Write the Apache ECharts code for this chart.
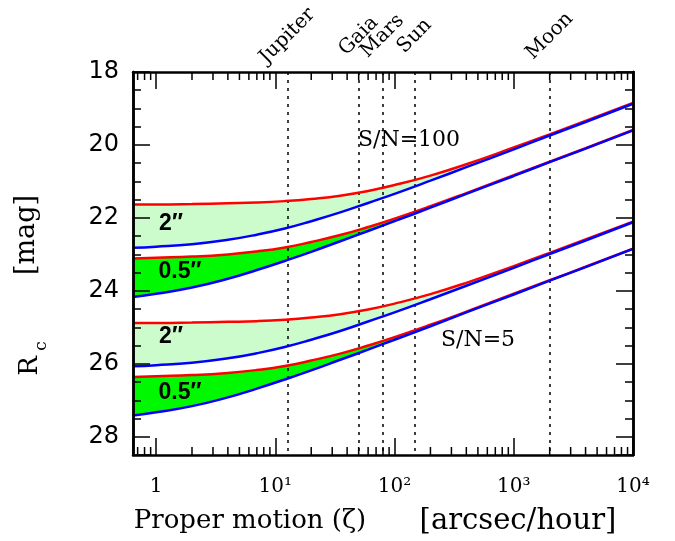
<!DOCTYPE html>
<html>
<head>
<meta charset="utf-8">
<script src="https://cdn.jsdelivr.net/npm/echarts@6/dist/echarts.min.js"></script>
<style>html,body{margin:0;padding:0;background:#fff}#c{width:675px;height:541px}</style>
</head>
<body>
<div id="c"></div>
<script>
// Proper motion values (arcsec/hour) at which curves are sampled
const zeta = [0.64, 1, 2, 4, 7, 12, 20, 35, 60, 100, 200, 400, 1000, 2000, 4000, 10000];
// S/N = 100
const red2_sn100  = [21.63,21.63,21.62,21.60,21.58,21.54,21.48,21.39,21.26,21.10,20.84,20.53,20.07,19.71,19.34,18.85];
const blue2_sn100 = [22.82,22.79,22.72,22.60,22.46,22.29,22.09,21.85,21.59,21.34,20.98,20.61,20.12,19.74,19.37,18.87];
const red05_sn100 = [23.11,23.09,23.06,23.00,22.92,22.81,22.66,22.47,22.25,22.02,21.68,21.32,20.83,20.46,20.09,19.59];
const blue05_sn100= [24.17,24.08,23.91,23.67,23.43,23.18,22.93,22.64,22.36,22.09,21.72,21.34,20.85,20.47,20.10,19.60];
// S/N = 5
const red2_sn5    = [24.88,24.88,24.87,24.85,24.83,24.79,24.73,24.64,24.51,24.35,24.09,23.78,23.32,22.96,22.59,22.10];
const blue2_sn5   = [26.07,26.04,25.97,25.85,25.71,25.54,25.34,25.10,24.84,24.59,24.23,23.86,23.37,22.99,22.62,22.12];
const red05_sn5   = [26.36,26.34,26.31,26.25,26.17,26.06,25.91,25.72,25.50,25.27,24.93,24.57,24.08,23.71,23.34,22.84];
const blue05_sn5  = [27.42,27.33,27.16,26.92,26.68,26.43,26.18,25.89,25.61,25.34,24.97,24.59,24.10,23.72,23.35,22.85];
// Reference proper motions
const planetNames = ['Jupiter', 'Gaia', 'Mars', 'Sun', 'Moon'];
const planetZeta  = [12.6, 50, 79, 147, 2000];
// Axis
const xMin = 0.64, xMax = 10000;
const yMin = 18, yMax = 28.5;
const xMinorTicks = [0.7,0.8,0.9,2,3,4,5,6,7,8,9,20,30,40,50,60,70,80,90,200,300,400,500,600,700,800,900,2000,3000,4000,5000,6000,7000,8000,9000];
const supers = {0:'⁰',1:'¹',2:'²',3:'³',4:'⁴'};

const pairs = [
  {red: red2_sn100, blue: blue2_sn100, fill: '#ccfccc'},
  {red: red05_sn100, blue: blue05_sn100, fill: '#00f800'},
  {red: red2_sn5, blue: blue2_sn5, fill: '#ccfccc'},
  {red: red05_sn5, blue: blue05_sn5, fill: '#00f800'}
];
const zip = arr => zeta.map((z, i) => [z, arr[i]]);
const SM = 0.5;

const series = [];
// Band fills: colour below the red curve, then white below the blue curve (drawn in order, top to bottom)
pairs.forEach(p => {
  series.push({type:'line', data: zip(p.red), symbol:'none', smooth:SM,
    lineStyle:{width:0, opacity:0}, areaStyle:{color:p.fill, opacity:1, origin:'end'}, z:1, silent:true});
  series.push({type:'line', data: zip(p.blue), symbol:'none', smooth:SM,
    lineStyle:{width:0, opacity:0}, areaStyle:{color:'#ffffff', opacity:1, origin:'end'}, z:1, silent:true});
});
series.push({type:'line', data:[], z:3, silent:true,
  markLine:{symbol:['none','none'], silent:true, label:{show:false}, animation:false,
    lineStyle:{color:'#000', type:[3,5], width:1.5},
    data: planetZeta.map(v => ({xAxis: v}))}});
pairs.forEach(p => {
  series.push({type:'line', data: zip(p.red), symbol:'none', smooth:SM,
    lineStyle:{color:'#ff0000', width:2.5}, z:5, silent:true});
});
pairs.forEach(p => {
  series.push({type:'line', data: zip(p.blue), symbol:'none', smooth:SM,
    lineStyle:{color:'#0000ff', width:2.5}, z:6, silent:true});
});
series.push({type:'custom', data: xMinorTicks.map(v => [v, yMin]), z:10, silent:true, clip:false,
  renderItem: (params, api) => {
    const x = api.coord([api.value(0), yMin])[0];
    const top = params.coordSys.y, bot = params.coordSys.y + params.coordSys.height;
    const st = {stroke:'#000', lineWidth:1.5};
    return {type:'group', children:[
      {type:'line', shape:{x1:x, y1:top, x2:x, y2:top+8}, style:st},
      {type:'line', shape:{x1:x, y1:bot, x2:x, y2:bot-8}, style:st}
    ]};
  }});

const axLine = {show:true, lineStyle:{color:'#000', width:2.5}};
const majTick = {show:true, inside:true, length:17, lineStyle:{color:'#000', width:1.5}};
const minTick = {show:true, inside:true, length:8, lineStyle:{color:'#000', width:1.5}};
const yBase = {type:'value', inverse:true, min:yMin, max:yMax, splitLine:{show:false}, z:10, axisLine:axLine};

const option = {
  animation:false,
  backgroundColor:'#fff',
  grid:{left:133, right:42, top:72, bottom:86},
  xAxis:[
    {type:'log', logBase:10, min:xMin, max:xMax, position:'bottom', z:10, axisLine:axLine, axisTick:majTick,
      splitLine:{show:false}, minorTick:{show:false},
      axisLabel:{show:true, margin:22, color:'#000', fontFamily:'DejaVu Serif', fontSize:20, showMinLabel:true, showMaxLabel:true,
        formatter: v => { const e = Math.round(Math.log10(v)); if (Math.abs(Math.log10(v) - e) > 1e-6) return ''; return e === 0 ? '1' : '10' + supers[e]; }}},
    {type:'log', logBase:10, min:xMin, max:xMax, position:'top', z:10, axisLine:axLine, axisTick:majTick,
      splitLine:{show:false}, axisLabel:{show:false}}
  ],
  yAxis:[
    Object.assign({}, yBase, {position:'left', interval:2, axisTick:majTick,
      axisLabel:{margin:14, color:'#000', fontFamily:'DejaVu Sans', fontSize:24, formatter: v => (v % 2 === 0 ? String(v) : '')}}),
    Object.assign({}, yBase, {position:'left', interval:0.5, axisTick:minTick, axisLabel:{show:false}}),
    Object.assign({}, yBase, {position:'right', interval:2, axisTick:majTick, axisLabel:{show:false}}),
    Object.assign({}, yBase, {position:'right', interval:0.5, axisTick:minTick, axisLabel:{show:false}})
  ],
  series: series
};

const chart = echarts.init(document.getElementById('c'), null, {renderer:'canvas'});
chart.setOption(option);

const serif = 'DejaVu Serif';
const graphics = [];
planetZeta.forEach((z, i) => {
  const px = chart.convertToPixel({xAxisIndex:0, yAxisIndex:0}, [z, yMin]);
  graphics.push({type:'text', x: px[0], y: 36, rotation: Math.PI/4, z:20,
    style:{text: planetNames[i], font: '20px "' + serif + '"', fill:'#000', textAlign:'center', textVerticalAlign:'middle'}});
});
const txt = (s, x, y, font, rot) => ({type:'text', x:x, y:y, rotation: rot || 0, z:20,
  style:{text:s, font:font, fill:'#000', textAlign:'center', textVerticalAlign:'middle'}});
graphics.push(txt('Proper motion (\u03B6)', 250, 521, '26px "DejaVu Serif"'));
graphics.push(txt('[arcsec/hour]', 518, 521, '29px "DejaVu Serif"'));
graphics.push(txt('[mag]', 27, 235, '27px "DejaVu Serif"', Math.PI/2));
graphics.push(txt('R', 30, 366, '26px "DejaVu Serif"', Math.PI/2));
graphics.push(txt('c', 42, 346, '17px "DejaVu Serif"', Math.PI/2));
graphics.push(txt('S/N=100', 409, 140, '22px "DejaVu Serif"'));
graphics.push(txt('S/N=5', 478, 340, '22px "DejaVu Serif"'));
const bandFont = 'bold 23px "Liberation Sans"';
graphics.push(txt('2\u2033', 171, 224, bandFont));
graphics.push(txt('0.5\u2033', 180, 272, bandFont));
graphics.push(txt('2\u2033', 171, 337, bandFont));
graphics.push(txt('0.5\u2033', 180, 393, bandFont));
chart.setOption({graphic: graphics});
</script>
</body>
</html>
